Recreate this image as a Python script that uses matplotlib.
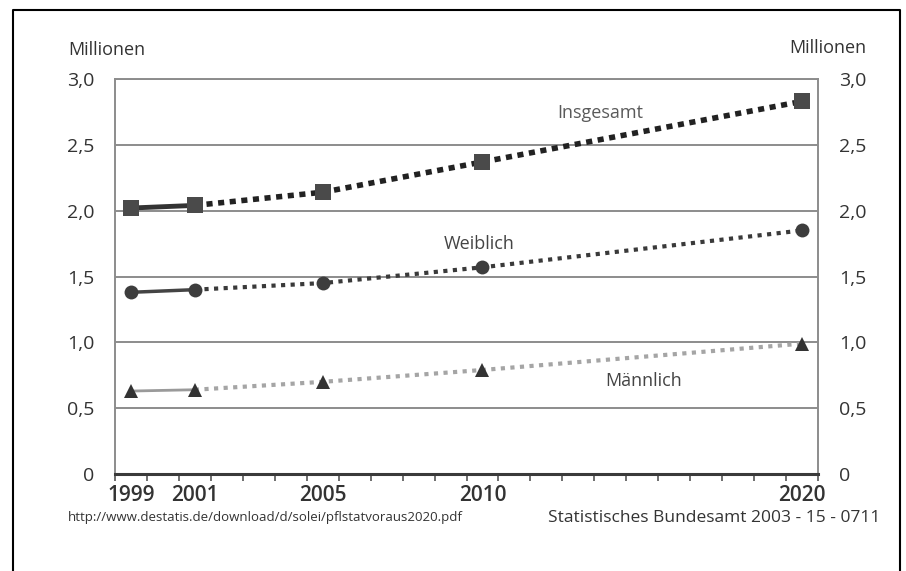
import numpy as np
import matplotlib
matplotlib.use("Agg")
import matplotlib.pyplot as plt
from matplotlib.lines import Line2D

plt.rcParams["font.family"] = ["Open Sans", "DejaVu Sans"]

years = [1999, 2001, 2005, 2010, 2020]
year_labels = ["1999", "2001", "2005", "2010", "2020"]
insgesamt = [2.02, 2.04, 2.14, 2.37, 2.83]
weiblich = [1.38, 1.40, 1.45, 1.57, 1.85]
maennlich = [0.63, 0.64, 0.70, 0.79, 0.99]
y_ticks = [0, 0.5, 1.0, 1.5, 2.0, 2.5, 3.0]
y_labels = ["0", "0,5", "1,0", "1,5", "2,0", "2,5", "3,0"]

W, H = 906, 571
fig = plt.figure(figsize=(W / 100, H / 100), dpi=100)
ax = fig.add_axes([115 / W, 1 - 474 / H, (818 - 115) / W, (474 - 79) / H])


def draw_series(y, solid, dotted, marker, ms, mcolor):
    # first two years are observed (solid), the rest projected (dotted)
    ax.plot(years[:2], y[:2], color=solid[0], lw=solid[1],
            solid_capstyle="butt", zorder=3)
    ax.plot(years[1:], y[1:], color=dotted[0], lw=dotted[1],
            linestyle=dotted[2], dash_capstyle="butt", zorder=3)
    ax.plot(years, y, linestyle="none", marker=marker, ms=ms,
            color=mcolor, markeredgewidth=0, zorder=4)


draw_series(insgesamt, ("#333333", 3.5), ("#222222", 4.0, (0, (1.1, 1.0))),
            "s", 11, "#4a4a4a")
draw_series(weiblich, ("#444444", 2.5), ("#3a3a3a", 3.0, (0, (1, 1.3))),
            "o", 10, "#3d3d3d")
draw_series(maennlich, ("#9a9a9a", 2.0), ("#a5a5a5", 3.0, (0, (1, 1.3))),
            "^", 10, "#333333")

ax.set_xlim(1998.5, 2020.5)
ax.set_ylim(0, 3.0)

ax.set_yticks(y_ticks)
ax.set_yticklabels(y_labels)
ax.yaxis.grid(True, color="#8c8c8c", lw=1.4)
ax.set_axisbelow(True)
ax.tick_params(axis="y", length=0, pad=15, labelsize=14, labelcolor="#333333",
               labelleft=True, labelright=True)

ax.set_xticks(years)
ax.set_xticklabels(year_labels)
ax.set_xticks(np.arange(1998.5, 2021, 1.0), minor=True)
ax.tick_params(axis="x", which="major", length=0, pad=8, labelsize=15,
               labelcolor="#333333")
for t in ax.get_xticklabels():
    t.set_fontweight("semibold")
ax.tick_params(axis="x", which="minor", length=5, width=1.2, color="#555555",
               direction="out")

for side in ("left", "right", "top"):
    ax.spines[side].set_color("#8c8c8c")
    ax.spines[side].set_linewidth(1.4)
ax.spines["bottom"].set_color("#3a3a3a")
ax.spines["bottom"].set_linewidth(2.2)

ax.text(2013.7, 2.74, "Insgesamt", fontsize=13, color="#5a5a5a",
        ha="center", va="center")
ax.text(2009.9, 1.75, "Weiblich", fontsize=13, color="#444444",
        ha="center", va="center")
ax.text(2015.05, 0.71, "Männlich", fontsize=13, color="#444444",
        ha="center", va="center")

fig.text(68 / W, 1 - 50 / H, "Millionen", fontsize=13, color="#333333",
         ha="left", va="center")
fig.text(866 / W, 1 - 48 / H, "Millionen", fontsize=13, color="#333333",
         ha="right", va="center")

fig.text(68 / W, 1 - 518 / H,
         "http://www.destatis.de/download/d/solei/pflstatvoraus2020.pdf",
         fontsize=9.5, color="#333333", ha="left", va="center")
fig.text(880 / W, 1 - 518 / H, "Statistisches Bundesamt 2003 - 15 - 0711",
         fontsize=12.5, color="#333333", ha="right", va="center")

# frame around the chart, open at the bottom
x0, x1, y1 = 13 / W, 900 / W, 1 - 10 / H
fig.add_artist(Line2D([x0, x0, x1, x1], [0, y1, y1, 0], color="black",
                      lw=1.5, transform=fig.transFigure))

fig.savefig("out.png", dpi=100)
